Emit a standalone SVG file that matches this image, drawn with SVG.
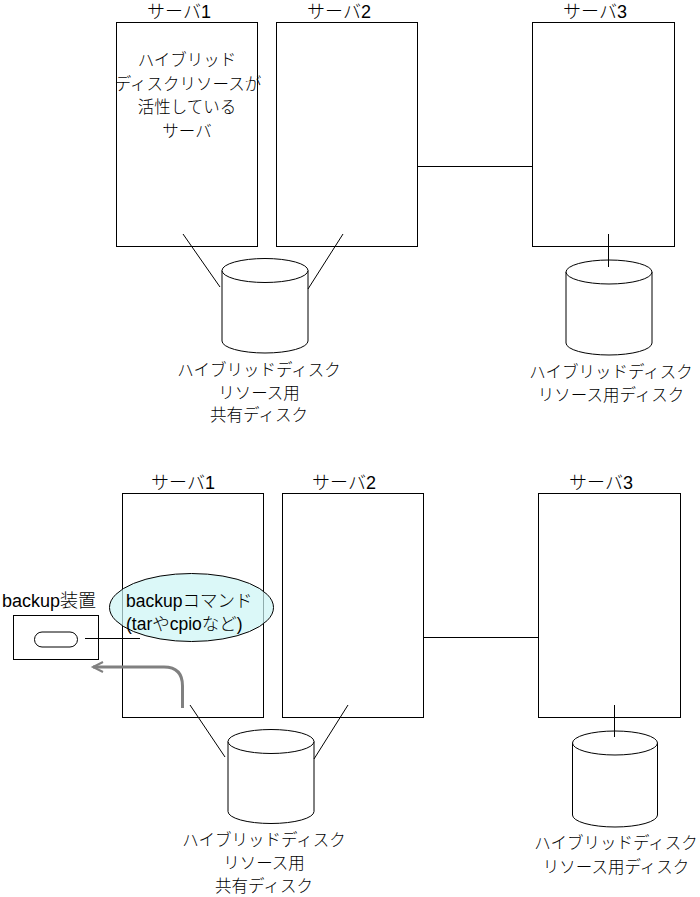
<svg xmlns="http://www.w3.org/2000/svg" width="700" height="897" viewBox="0 0 700 897">
<style>
.srv{fill:#fff;stroke:#000;stroke-width:1}
.cyl{fill:#fff;stroke:#000;stroke-width:1}
.ln{stroke:#000;stroke-width:1;fill:none}
text{font-family:"Liberation Sans","Noto Sans CJK JP",sans-serif;fill:#000;font-weight:300}
.lbl{font-size:18px;text-anchor:middle}
.t{font-size:16.5px;text-anchor:middle}
.e{font-size:17.5px}
</style>
<defs>
<marker id="arr" markerUnits="userSpaceOnUse" markerWidth="14" markerHeight="14" refX="11" refY="6" orient="auto">
<path d="M1,1 L11,6 L1,11" fill="none" stroke="#808080" stroke-width="2"/>
</marker>
</defs>
<rect width="700" height="897" fill="#fff"/>

<g id="top-server1">
<rect class="srv" x="116.5" y="22.5" width="141" height="224"/>
<text class="lbl" x="179" y="18">サーバ1</text>
<text class="t" x="187" y="66">ハイブリッド</text>
<text class="t" x="188" y="89.5">ディスクリソースが</text>
<text class="t" x="187" y="113">活性している</text>
<text class="t" x="187" y="136.5">サーバ</text>
</g>
<g id="top-server2">
<rect class="srv" x="276.5" y="22.5" width="141" height="224"/>
<text class="lbl" x="339" y="18">サーバ2</text>
</g>
<g id="top-server3">
<rect class="srv" x="532.5" y="22.5" width="142" height="224"/>
<text class="lbl" x="595" y="18">サーバ3</text>
</g>
<g id="top-shared-disk">
<path class="cyl" d="M222,270.5 L222,341 A43,12 0 0 0 308,341 L308,270.5"/>
<ellipse class="cyl" cx="265" cy="270.5" rx="43" ry="12"/>
<text class="t" x="259" y="376">ハイブリッドディスク</text>
<text class="t" x="259" y="399">リソース用</text>
<text class="t" x="259" y="421">共有ディスク</text>
</g>
<g id="top-disk3">
<path class="cyl" d="M566,272 L566,343 A43,12 0 0 0 652,343 L652,272"/>
<ellipse class="cyl" cx="609" cy="272" rx="43" ry="12"/>
<text class="t" x="611" y="378">ハイブリッドディスク</text>
<text class="t" x="611" y="401">リソース用ディスク</text>
</g>

<g id="bottom-server1">
<rect class="srv" x="122.5" y="493.5" width="141" height="224"/>
<text class="lbl" x="183" y="488.5">サーバ1</text>
</g>
<g id="bottom-server2">
<rect class="srv" x="282.5" y="493.5" width="141" height="224"/>
<text class="lbl" x="344" y="488.5">サーバ2</text>
</g>
<g id="bottom-server3">
<rect class="srv" x="538.5" y="493.5" width="142" height="224"/>
<text class="lbl" x="601" y="488.5">サーバ3</text>
</g>
<g id="bottom-shared-disk">
<path class="cyl" d="M228,741.5 L228,811.5 A43,12 0 0 0 314,811.5 L314,741.5"/>
<ellipse class="cyl" cx="271" cy="741.5" rx="43" ry="12"/>
<text class="t" x="264" y="846">ハイブリッドディスク</text>
<text class="t" x="264" y="869">リソース用</text>
<text class="t" x="264" y="892">共有ディスク</text>
</g>
<g id="bottom-disk3">
<path class="cyl" d="M572.5,743 L572.5,815 A42.5,12 0 0 0 657.5,815 L657.5,743"/>
<ellipse class="cyl" cx="615" cy="743" rx="42.5" ry="12"/>
<text class="t" x="616" y="849">ハイブリッドディスク</text>
<text class="t" x="616" y="873">リソース用ディスク</text>
</g>
<g id="backup-device">
<rect class="srv" x="13.5" y="615.5" width="85" height="44"/>
<rect class="srv" x="34.5" y="632" width="43" height="15" rx="7.5"/>
<text class="lbl" x="49" y="606.5">backup装置</text>
</g>

<g id="connectors">
<line class="ln" x1="183" y1="234" x2="220" y2="287"/>
<line class="ln" x1="343" y1="234" x2="308" y2="289"/>
<line class="ln" x1="417.5" y1="166.5" x2="532.5" y2="166.5"/>
<line class="ln" x1="608.5" y1="234" x2="608.5" y2="267"/>
<line class="ln" x1="190" y1="705" x2="225" y2="757"/>
<line class="ln" x1="348" y1="705" x2="314" y2="759"/>
<line class="ln" x1="423.5" y1="637.5" x2="538.5" y2="637.5"/>
<line class="ln" x1="614.5" y1="705" x2="614.5" y2="737"/>
<line class="ln" x1="85" y1="638.5" x2="140" y2="638.5"/>
<path d="M182.5,708 L182.5,686 Q182.5,667 164,667 L93,667" fill="none" stroke="#808080" stroke-width="3" marker-end="url(#arr)"/>
</g>

<g id="backup-command">
<ellipse cx="191.5" cy="607.5" rx="82" ry="34" fill="#ccf5f5" fill-opacity="0.7" stroke="#000" stroke-width="1"/>
<text class="e" x="126" y="607">backupコマンド</text>
<text class="e" x="126" y="630">(tarやcpioなど)</text>
</g>
</svg>
